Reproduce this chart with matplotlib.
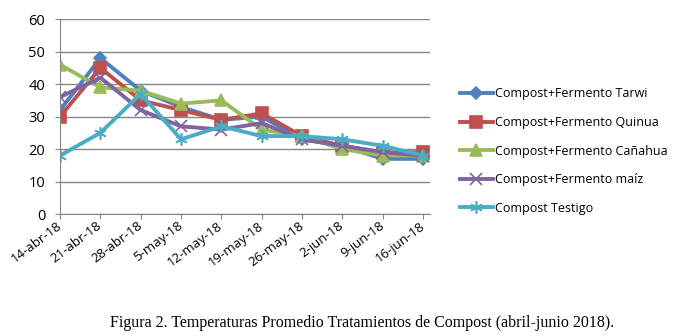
import matplotlib.pyplot as plt
import matplotlib.transforms as mtransforms
import numpy as np

# datos
fechas = ["14-abr-18", "21-abr-18", "28-abr-18", "5-may-18", "12-may-18",
          "19-may-18", "26-may-18", "2-jun-18", "9-jun-18", "16-jun-18"]
tarwi = [32, 48, 38, 33, 29, 30, 23, 21, 17, 17]
quinua = [30, 45, 35, 32, 29, 31, 24, 21, 19, 19]
canahua = [46, 39, 38, 34, 35, 26, 24, 20, 18, 18]
maiz = [36, 42, 32, 27, 26, 28, 23, 21, 19, 18]
testigo = [18, 25, 37, 23, 27, 24, 24, 23, 21, 18]

series = [
    ("Compost+Fermento Tarwi", tarwi, "#4F81BD", "D", 6),
    ("Compost+Fermento Quinua", quinua, "#C0504D", "s", 8),
    ("Compost+Fermento Cañahua", canahua, "#9BBB59", "^", 8),
    ("Compost+Fermento maíz", maiz, "#8064A2", "x", 8),
    ("Compost Testigo", testigo, "#4BACC6", (6, 2, 0), 9),
]

plt.rcParams['font.family'] = ['Open Sans', 'DejaVu Sans']

fig = plt.figure(figsize=(6.9, 3.36), dpi=100)
ax = fig.add_axes([0.087, 0.363, 0.536, 0.58])

x = np.arange(len(fechas))
for nombre, vals, color, mk, ms in series:
    ax.plot(x, vals, color=color, lw=2.8, marker=mk, markersize=ms,
            markeredgecolor=color, markeredgewidth=1.2, label=nombre)

ax.set_ylim(0, 60)
ax.set_yticks(range(0, 61, 10))
ax.set_xlim(0, 9.17)
ax.set_xticks(x)
ax.set_xticklabels(fechas, rotation=37, ha="right", va="center",
                   rotation_mode="anchor", fontsize=9.5)
# desplazar etiquetas un poco a la derecha
offset = mtransforms.ScaledTranslation(4 / 100, 0, fig.dpi_scale_trans)
for lbl in ax.get_xticklabels():
    lbl.set_transform(lbl.get_transform() + offset)
ax.grid(axis="y", color="#868686", lw=1)
ax.set_axisbelow(True)
for s in ["top", "right"]:
    ax.spines[s].set_visible(False)
for s in ["left", "bottom"]:
    ax.spines[s].set_color("#868686")
ax.tick_params(axis="both", colors="#868686", labelcolor="black", length=3.6)
ax.tick_params(axis="y", pad=7, labelsize=10.5)
ax.tick_params(axis="x", pad=4)

fig.legend(loc="upper left", bbox_to_anchor=(0.667, 0.74), frameon=False,
           fontsize=9, handlelength=2.6, handletextpad=0.2, labelspacing=1.25,
           borderaxespad=0, borderpad=0)

fig.text(0.525, 0.04, "Figura 2. Temperaturas Promedio Tratamientos de Compost (abril-junio 2018).",
         ha="center", va="center", family="Liberation Serif", fontsize=11.5)

fig.savefig("out.png", dpi=100)
